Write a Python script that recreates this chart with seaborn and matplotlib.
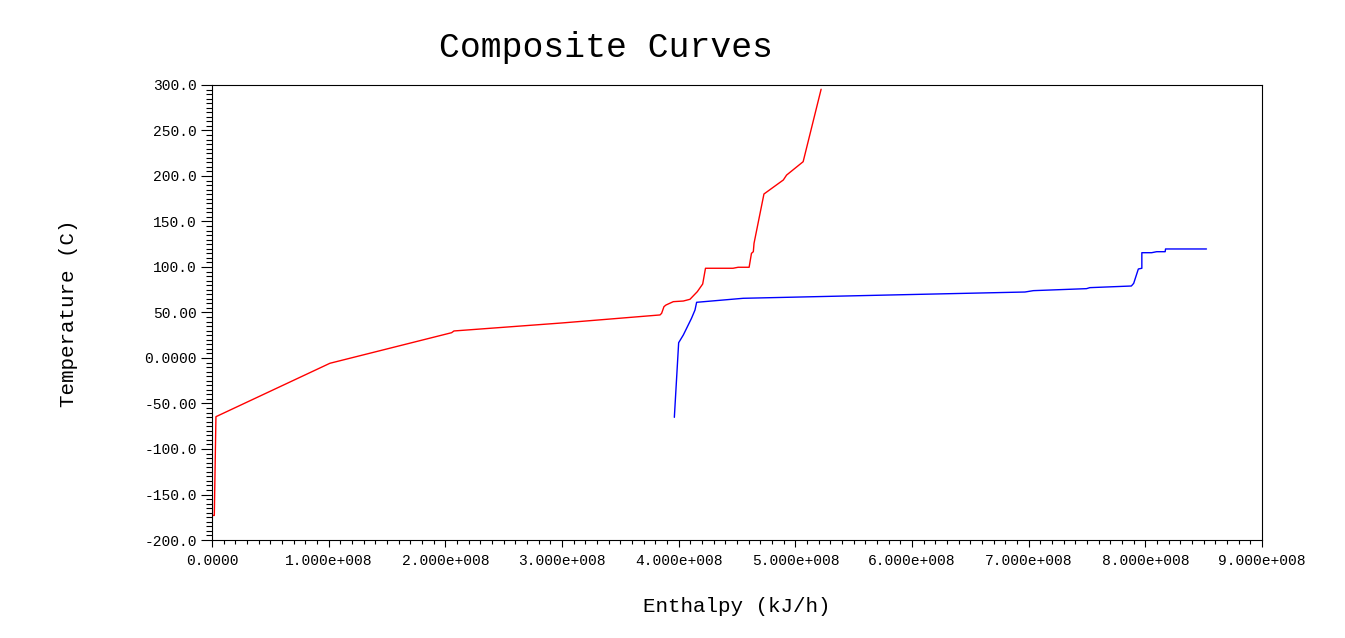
import numpy as np
import pandas as pd
import seaborn as sns
import matplotlib.pyplot as plt
from matplotlib.ticker import MultipleLocator

# hot composite curve (red), enthalpy in kJ/h, temperature in C
hot_h = [0.0, 0.001e8, 0.02e8, 0.034e8, 1.011e8, 2.054e8, 2.074e8, 3.0e8, 3.84e8,
         3.854e8, 3.874e8, 3.891e8, 3.954e8, 4.04e8, 4.097e8, 4.16e8, 4.206e8,
         4.23e8, 4.466e8, 4.51e8, 4.604e8, 4.624e8, 4.64e8, 4.646e8, 4.731e8,
         4.897e8, 4.925e8, 5.067e8, 5.221e8]
hot_t = [-181.7, -173.0, -173.0, -64.5, -5.8, 27.8, 29.7, 38.5, 47.3,
         49.1, 56.4, 58.2, 61.9, 62.6, 64.5, 72.9, 81.3,
         98.6, 98.6, 99.7, 99.7, 115.0, 116.8, 126.0, 180.2,
         195.6, 201.0, 215.7, 295.3]

# cold composite curve (blue)
cold_h = [3.963e8, 4.0e8, 4.04e8, 4.068e8, 4.11e8, 4.14e8, 4.154e8, 4.553e8,
          5.8e8, 6.968e8, 7.04e8, 7.496e8, 7.524e8, 7.88e8, 7.9e8, 7.94e8,
          7.97e8, 7.97e8, 8.054e8, 8.097e8, 8.17e8, 8.173e8, 8.524e8]
cold_t = [-65.2, 16.8, 25.3, 32.6, 43.6, 52.7, 61.2, 65.6,
          69.2, 72.5, 74.0, 76.2, 77.3, 79.1, 82.0, 97.8,
          98.6, 115.7, 115.7, 116.8, 116.8, 119.8, 119.8]

x_ticks = [i * 1e8 for i in range(10)]
x_labels = ['0.0000'] + ['%d.000e+008' % i for i in range(1, 10)]
y_ticks = [300, 250, 200, 150, 100, 50, 0, -50, -100, -150, -200]
y_labels = ['300.0', '250.0', '200.0', '150.0', '100.0', '50.00', '0.0000',
            '-50.00', '-100.0', '-150.0', '-200.0']

df = pd.concat([
    pd.DataFrame({'Enthalpy': hot_h, 'Temperature': hot_t, 'curve': 'hot'}),
    pd.DataFrame({'Enthalpy': cold_h, 'Temperature': cold_t, 'curve': 'cold'}),
])

sns.set_style('ticks', {'text.color': 'black', 'axes.labelcolor': 'black',
                        'xtick.color': 'black', 'ytick.color': 'black',
                        'axes.edgecolor': 'black'})
plt.rcParams['font.family'] = ['Liberation Mono', 'DejaVu Sans']

fig = plt.figure(figsize=(13.45, 6.38), dpi=100)
ax = fig.add_axes([0.1576, 0.1536, 0.7807, 0.7132])

sns.lineplot(data=df, x='Enthalpy', y='Temperature', hue='curve',
             palette={'hot': 'red', 'cold': 'blue'}, sort=False,
             estimator=None, legend=False, linewidth=1, ax=ax)

ax.set_xlim(0, 9e8)
ax.set_ylim(-200, 300)
ax.set_xticks(x_ticks)
ax.set_xticklabels(x_labels)
ax.set_yticks(y_ticks)
ax.set_yticklabels(y_labels)
ax.xaxis.set_minor_locator(MultipleLocator(1e7))
ax.yaxis.set_minor_locator(MultipleLocator(5))
ax.tick_params(axis='y', which='major', length=8, width=0.8, pad=3, labelsize=10.5)
ax.tick_params(axis='y', which='minor', length=4.3, width=0.8)
ax.tick_params(axis='x', which='major', length=5, width=0.8, pad=5, labelsize=10.5)
ax.tick_params(axis='x', which='minor', length=3, width=0.8)

for s in ax.spines.values():
    s.set_color('black')
    s.set_linewidth(0.8)

ax.set_xlabel('')
ax.set_ylabel('')
fig.text(0.5476, 1 - 607 / 638, 'Enthalpy (kJ/h)', ha='center', va='center',
         fontsize=15, color='black')
fig.text(68 / 1345, 1 - 313 / 638, 'Temperature (C)', ha='center', va='center',
         rotation=90, fontsize=15, color='black')
fig.text(606 / 1345, 1 - 47 / 638, 'Composite Curves', ha='center', va='center',
         fontsize=25, color='black')

fig.savefig('out.png', dpi=100)
